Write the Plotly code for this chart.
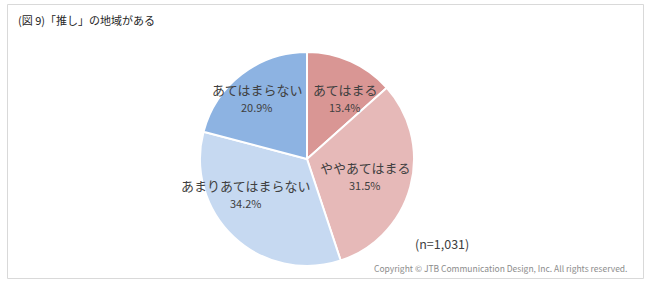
import math
import plotly.graph_objects as go

labels = ["あてはまる", "ややあてはまる", "あまりあてはまらない", "あてはまらない"]
values = [13.4, 31.5, 34.2, 20.9]
colors = ["#d99694", "#e6b9b8", "#c6d9f1", "#8db3e2"]
title_text = "(図 9)「推し」の地域がある"
n_text = "(n=1,031)"
copyright_text = "Copyright © JTB Communication Design, Inc. All rights reserved."

W, H = 650, 285
CX, CY, R = 307, 159, 107  # pie centre / radius in pixels (style)
label_r = 0.62
nudges = [(11, 0), (-6, 0), (-16, -13), (-10, -8)]  # pixel nudges (style)

font = "Noto Sans CJK JP, Meiryo, sans-serif"

fig = go.Figure(go.Pie(
    labels=labels, values=values, sort=False, direction="clockwise", rotation=0,
    marker=dict(colors=colors, line=dict(color="white", width=2)),
    textinfo="none", hoverinfo="label+percent", showlegend=False,
    domain=dict(x=[(CX - R) / W, (CX + R) / W], y=[(H - CY - R) / H, (H - CY + R) / H]),
))

annotations = []
total = sum(values)
cum = 0
for lab, v, (nx, ny) in zip(labels, values, nudges):
    mid = (cum + v / 2) / total * 2 * math.pi
    cum += v
    dx = label_r * R * math.sin(mid) + nx
    dy = -label_r * R * math.cos(mid) + ny  # screen coords (down positive)
    px, py = (CX + dx) / W, (H - (CY + dy)) / H
    annotations.append(dict(
        x=px, y=py, yshift=9, xref="paper", yref="paper", text=lab,
        showarrow=False, xanchor="center", yanchor="middle",
        font=dict(family=font, size=13, color="#404040"),
    ))
    annotations.append(dict(
        x=px, y=py, yshift=-9, xref="paper", yref="paper", text=f"{v:.1f}%",
        showarrow=False, xanchor="center", yanchor="middle",
        font=dict(family=font, size=11, color="#404040"),
    ))

annotations.append(dict(x=16 / W, y=1 - 20 / H, xref="paper", yref="paper", text=title_text,
                        showarrow=False, xanchor="left", yanchor="middle",
                        font=dict(family=font, size=11, color="#262626")))
annotations.append(dict(x=413 / W, y=1 - 243 / H, xref="paper", yref="paper", text=n_text,
                        showarrow=False, xanchor="left", yanchor="middle",
                        font=dict(family=font, size=12.5, color="#404040")))
annotations.append(dict(x=629 / W, y=1 - 268 / H, xref="paper", yref="paper", text=copyright_text,
                        showarrow=False, xanchor="right", yanchor="middle",
                        font=dict(family=font, size=8.5, color="#8c8c8c")))

fig.update_layout(
    width=W, height=H, margin=dict(l=0, r=0, t=0, b=0),
    paper_bgcolor="white", plot_bgcolor="white",
    annotations=annotations,
    shapes=[dict(type="rect", xref="paper", yref="paper",
                 x0=7.5 / W, x1=643.5 / W, y0=1 - 278.5 / H, y1=1 - 4.5 / H,
                 line=dict(color="#d9d9d9", width=1))],
)

fig.write_html("out.html")
